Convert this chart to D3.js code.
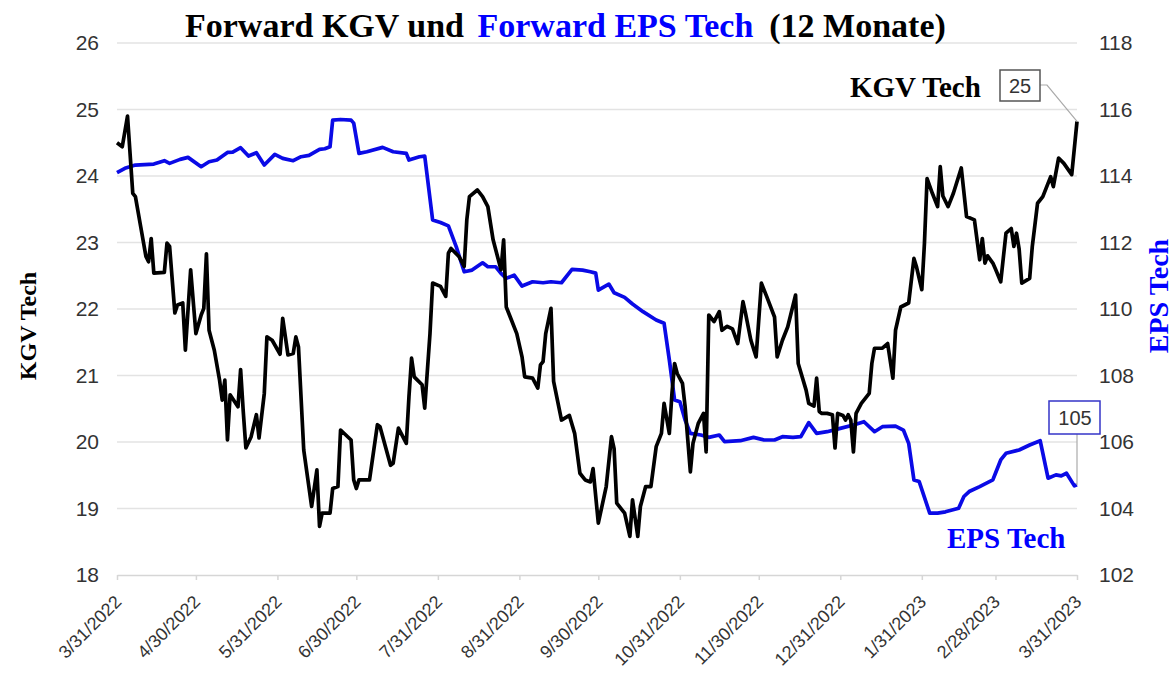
<!DOCTYPE html>
<html>
<head>
<meta charset="utf-8">
<script src="https://cdn.jsdelivr.net/npm/d3@7"></script>
<style>
  body { margin: 0; background: #fff; }
  svg { display: block; }
</style>
</head>
<body>
<div id="chart"></div>
<script>
// days after 3/31/2022, value
const startDate = new Date(2022, 2, 31);

const kgvTech = [
  [0,24.50],[2,24.44],[4,24.90],[6,23.74],[7,23.69],[9,23.24],[11,22.79],[12,22.71],[13,23.06],[14,22.54],
  [18,22.55],[19,22.99],[20,22.94],[22,21.94],[23,22.06],[25,22.09],[26,21.38],[28,22.59],[30,21.63],[32,21.91],
  [33,22.01],[34,22.83],[35,21.68],[37,21.38],[39,20.93],[40,20.63],[41,20.93],[42,20.03],[43,20.71],[46,20.53],
  [47,21.09],[48,20.46],[49,19.91],[51,20.08],[53,20.41],[54,20.06],[56,20.73],[57,21.58],[59,21.53],[62,21.32],
  [63,21.86],[65,21.31],[67,21.33],[68,21.58],[69,21.43],[71,19.88],[74,19.03],[76,19.58],[77,18.73],[78,18.93],
  [81,18.93],[82,19.30],[84,19.33],[85,20.18],[89,20.03],[90,19.43],[91,19.30],[92,19.43],[96,19.43],[99,20.26],
  [100,20.23],[104,19.65],[105,19.68],[107,20.21],[110,19.98],[111,20.68],[112,21.26],[113,20.98],[116,20.86],[117,20.51],
  [119,21.63],[120,22.39],[123,22.34],[125,22.19],[126,22.84],[127,22.91],[130,22.79],[132,22.64],[133,23.34],[134,23.69],
  [137,23.79],[139,23.69],[141,23.54],[143,23.04],[146,22.59],[147,23.04],[148,22.03],[150,21.83],[152,21.63],[154,21.28],
  [155,20.98],[158,20.96],[160,20.81],[161,21.16],[162,21.21],[163,21.63],[165,22.01],[166,20.91],[169,20.33],[172,20.40],
  [174,20.13],[176,19.53],[178,19.43],[180,19.40],[181,19.60],[183,18.78],[186,19.33],[188,20.08],[189,19.90],[190,19.08],
  [193,18.93],[195,18.58],[196,19.13],[198,18.58],[199,19.03],[201,19.33],[203,19.33],[205,19.93],[207,20.13],[208,20.58],
  [210,20.13],[211,20.73],[212,21.18],[213,21.03],[215,20.88],[216,20.53],[218,19.55],[219,19.98],[221,20.28],[223,20.43],
  [224,19.85],[225,21.91],[227,21.81],[229,21.96],[230,21.68],[232,21.74],[234,21.70],[236,21.48],[238,22.11],[239,21.93],
  [241,21.53],[243,21.28],[245,22.39],[247,22.19],[250,21.88],[251,21.28],[253,21.53],[255,21.73],[258,22.21],[259,21.18],
  [262,20.78],[263,20.58],[265,20.54],[266,20.96],[267,20.46],[268,20.43],[270,20.43],[272,20.41],[273,19.91],[274,20.43],
  [276,20.40],[277,20.33],[278,20.41],[279,20.33],[280,19.85],[281,20.43],[283,20.58],[286,20.73],[287,21.18],[288,21.41],
  [291,21.41],[293,21.48],[295,20.96],[296,21.68],[298,22.03],[301,22.09],[303,22.76],[304,22.63],[306,22.29],[307,22.99],
  [308,23.96],[310,23.74],[312,23.54],[313,24.14],[314,23.70],[316,23.54],[318,23.74],[321,24.12],[323,23.39],[326,23.34],
  [328,22.74],[329,23.06],[330,22.69],[331,22.80],[333,22.69],[334,22.60],[336,22.41],[338,23.14],[340,23.21],[341,22.94],
  [342,23.14],[343,22.90],[344,22.39],[347,22.46],[348,22.94],[350,23.59],[352,23.69],[355,23.99],[356,23.84],[358,24.27],
  [360,24.19],[363,24.02],[365,24.82]
];

const epsTech = [
  [0,114.10],[3,114.23],[7,114.33],[14,114.36],[18,114.46],[20,114.38],[24,114.50],[27,114.56],[32,114.28],[35,114.43],
  [38,114.48],[42,114.71],[44,114.72],[47,114.85],[50,114.60],[53,114.70],[56,114.33],[60,114.65],[63,114.53],[67,114.46],
  [70,114.58],[73,114.62],[77,114.80],[79,114.82],[81,114.88],[82,115.68],[85,115.70],[89,115.68],[90,115.59],[92,114.68],
  [95,114.73],[101,114.86],[105,114.73],[110,114.68],[111,114.48],[115,114.58],[117,114.60],[120,112.68],[123,112.60],[126,112.50],
  [129,111.87],[132,111.12],[135,111.17],[139,111.39],[141,111.27],[144,111.27],[146,111.07],[148,110.92],[151,111.02],[154,110.69],
  [158,110.82],[162,110.79],[165,110.82],[169,110.79],[173,111.19],[177,111.17],[180,111.12],[182,111.08],[183,110.57],[187,110.75],
  [189,110.49],[193,110.35],[196,110.15],[200,109.92],[205,109.67],[208,109.57],[210,108.47],[212,107.26],[214,107.21],[216,106.66],
  [218,106.26],[222,106.21],[225,106.14],[229,106.21],[231,106.01],[237,106.04],[242,106.14],[246,106.06],[250,106.06],[253,106.16],
  [257,106.14],[260,106.16],[263,106.58],[266,106.26],[270,106.31],[275,106.41],[280,106.51],[284,106.61],[288,106.31],[291,106.46],
  [296,106.48],[299,106.36],[301,105.96],[303,104.86],[305,104.81],[309,103.86],[312,103.86],[315,103.90],[320,104.01],[322,104.36],
  [324,104.51],[328,104.66],[333,104.86],[334,105.06],[336,105.46],[338,105.66],[343,105.76],[347,105.91],[351,106.04],[354,104.91],
  [357,105.01],[359,104.98],[361,105.06],[364,104.68],[365,104.71]
];

const xTickLabels = ["3/31/2022","4/30/2022","5/31/2022","6/30/2022","7/31/2022","8/31/2022","9/30/2022",
  "10/31/2022","11/30/2022","12/31/2022","1/31/2023","2/28/2023","3/31/2023"];
const leftTicks = [18, 19, 20, 21, 22, 23, 24, 25, 26];
const rightTicks = [102, 104, 106, 108, 110, 112, 114, 116, 118];

const width = 1175;
const height = 673;
const margin = {top: 43, left: 117, right: 98, bottom: 98};

const parseDate = d3.timeParse("%m/%d/%Y");
const tickDates = xTickLabels.map(parseDate);

let svg = d3.select("#chart")
  .append("svg")
  .attr("width", width)
  .attr("height", height);

let xScale = d3.scaleTime()
  .domain([startDate, parseDate("3/31/2023")])
  .range([margin.left, width - margin.right]);

let yLeft = d3.scaleLinear()
  .domain([18, 26])
  .range([height - margin.bottom, margin.top]);

let yRight = d3.scaleLinear()
  .domain([102, 118])
  .range([height - margin.bottom, margin.top]);

const day = function(d) { return d3.timeDay.offset(startDate, d[0]); };

// grid
svg.append("g").selectAll("line")
  .data(leftTicks.slice(1))
  .enter()
  .append("line")
  .attr("x1", margin.left)
  .attr("x2", width - margin.right)
  .attr("y1", function(d) { return yLeft(d); })
  .attr("y2", function(d) { return yLeft(d); })
  .style("stroke", "#e3e3e3")
  .style("stroke-width", 1.5);

// x axis
let xAxis = svg.append("g")
  .attr("transform", "translate(0," + yLeft(18) + ")")
  .call(d3.axisBottom(xScale)
    .tickValues(tickDates)
    .tickFormat(function(d, i) { return xTickLabels[i]; })
    .tickSize(5)
    .tickSizeOuter(0));

xAxis.select(".domain").style("stroke", "#d6d6d6").style("stroke-width", 1.5);
xAxis.selectAll(".tick line").style("stroke", "#d6d6d6").style("stroke-width", 1.5);
xAxis.selectAll(".tick text")
  .attr("x", 0).attr("y", 0).attr("dy", 0)
  .attr("transform", "translate(5,28) rotate(-45)")
  .style("text-anchor", "end")
  .style("font-family", "Liberation Sans, Arial, sans-serif")
  .style("font-size", "18px")
  .style("fill", "#333");

// left axis
let leftAxis = svg.append("g")
  .attr("transform", "translate(" + (margin.left - 18) + ",0)")
  .call(d3.axisLeft(yLeft).tickValues(leftTicks).tickSize(0).tickPadding(0));
leftAxis.select(".domain").remove();
leftAxis.selectAll("text")
  .style("font-family", "Liberation Sans, Arial, sans-serif")
  .style("font-size", "21px")
  .style("fill", "#333");

// right axis
let rightAxis = svg.append("g")
  .attr("transform", "translate(" + (width - margin.right + 22) + ",0)")
  .call(d3.axisRight(yRight).tickValues(rightTicks).tickSize(0).tickPadding(0));
rightAxis.select(".domain").remove();
rightAxis.selectAll("text")
  .style("font-family", "Liberation Sans, Arial, sans-serif")
  .style("font-size", "21px")
  .style("fill", "#333");

// lines
let epsLine = d3.line()
  .x(function(d) { return xScale(day(d)); })
  .y(function(d) { return yRight(d[1]); });

let kgvLine = d3.line()
  .x(function(d) { return xScale(day(d)); })
  .y(function(d) { return yLeft(d[1]); });

svg.append("path")
  .datum(epsTech)
  .attr("d", epsLine)
  .style("fill", "none")
  .style("stroke", "#0a0ae6")
  .style("stroke-width", 3.7)
  .style("stroke-linejoin", "round");

svg.append("path")
  .datum(kgvTech)
  .attr("d", kgvLine)
  .style("fill", "none")
  .style("stroke", "#000")
  .style("stroke-width", 3.7)
  .style("stroke-linejoin", "round");

// title
let title = svg.append("text")
  .attr("x", 185)
  .attr("y", 37)
  .style("font-family", "Liberation Serif, Times New Roman, serif")
  .style("font-weight", "bold")
  .style("font-size", "34px");
title.append("tspan").text("Forward KGV und ");
title.append("tspan").attr("dx", 5).style("fill", "#0000ff").text("Forward EPS Tech");
title.append("tspan").attr("dx", 16).text("(12 Monate)");

// axis titles
svg.append("text")
  .attr("transform", "translate(36,326) rotate(-90)")
  .style("text-anchor", "middle")
  .style("font-family", "Liberation Serif, Times New Roman, serif")
  .style("font-weight", "bold")
  .style("font-size", "24px")
  .text("KGV Tech");

svg.append("text")
  .attr("transform", "translate(1168,296) rotate(-90)")
  .style("text-anchor", "middle")
  .style("font-family", "Liberation Serif, Times New Roman, serif")
  .style("font-weight", "bold")
  .style("font-size", "28px")
  .style("fill", "#0000ff")
  .text("EPS Tech");

// end labels
const lastKgv = kgvTech[kgvTech.length - 1];
const lastEps = epsTech[epsTech.length - 1];

svg.append("text")
  .attr("x", 850).attr("y", 97)
  .style("font-family", "Liberation Serif, Times New Roman, serif")
  .style("font-weight", "bold")
  .style("font-size", "29px")
  .text("KGV Tech");

svg.append("polyline")
  .attr("points", [[1040, 85], [1047, 85], [xScale(day(lastKgv)), yLeft(lastKgv[1])]].join(" "))
  .style("fill", "none")
  .style("stroke", "#aaa")
  .style("stroke-width", 1.2);

svg.append("rect")
  .attr("x", 1000).attr("y", 70).attr("width", 40).attr("height", 31)
  .style("fill", "#fff").style("stroke", "#555").style("stroke-width", 1.5);
svg.append("text")
  .attr("x", 1020).attr("y", 93)
  .style("text-anchor", "middle")
  .style("font-family", "Liberation Sans, Arial, sans-serif")
  .style("font-size", "20px")
  .style("fill", "#333")
  .text(Math.round(lastKgv[1]));

svg.append("text")
  .attr("x", 947).attr("y", 548)
  .style("font-family", "Liberation Serif, Times New Roman, serif")
  .style("font-weight", "bold")
  .style("font-size", "29px")
  .style("fill", "#0000ff")
  .text("EPS Tech");

svg.append("line")
  .attr("x1", 1077).attr("x2", xScale(day(lastEps)))
  .attr("y1", 434).attr("y2", yRight(lastEps[1]))
  .style("stroke", "#aaa")
  .style("stroke-width", 1.2);

svg.append("rect")
  .attr("x", 1049).attr("y", 401).attr("width", 51).attr("height", 33)
  .style("fill", "#fff").style("stroke", "#3535c8").style("stroke-width", 1.5);
svg.append("text")
  .attr("x", 1075).attr("y", 425)
  .style("text-anchor", "middle")
  .style("font-family", "Liberation Sans, Arial, sans-serif")
  .style("font-size", "20px")
  .style("fill", "#333")
  .text(Math.round(lastEps[1]));
</script>
</body>
</html>
